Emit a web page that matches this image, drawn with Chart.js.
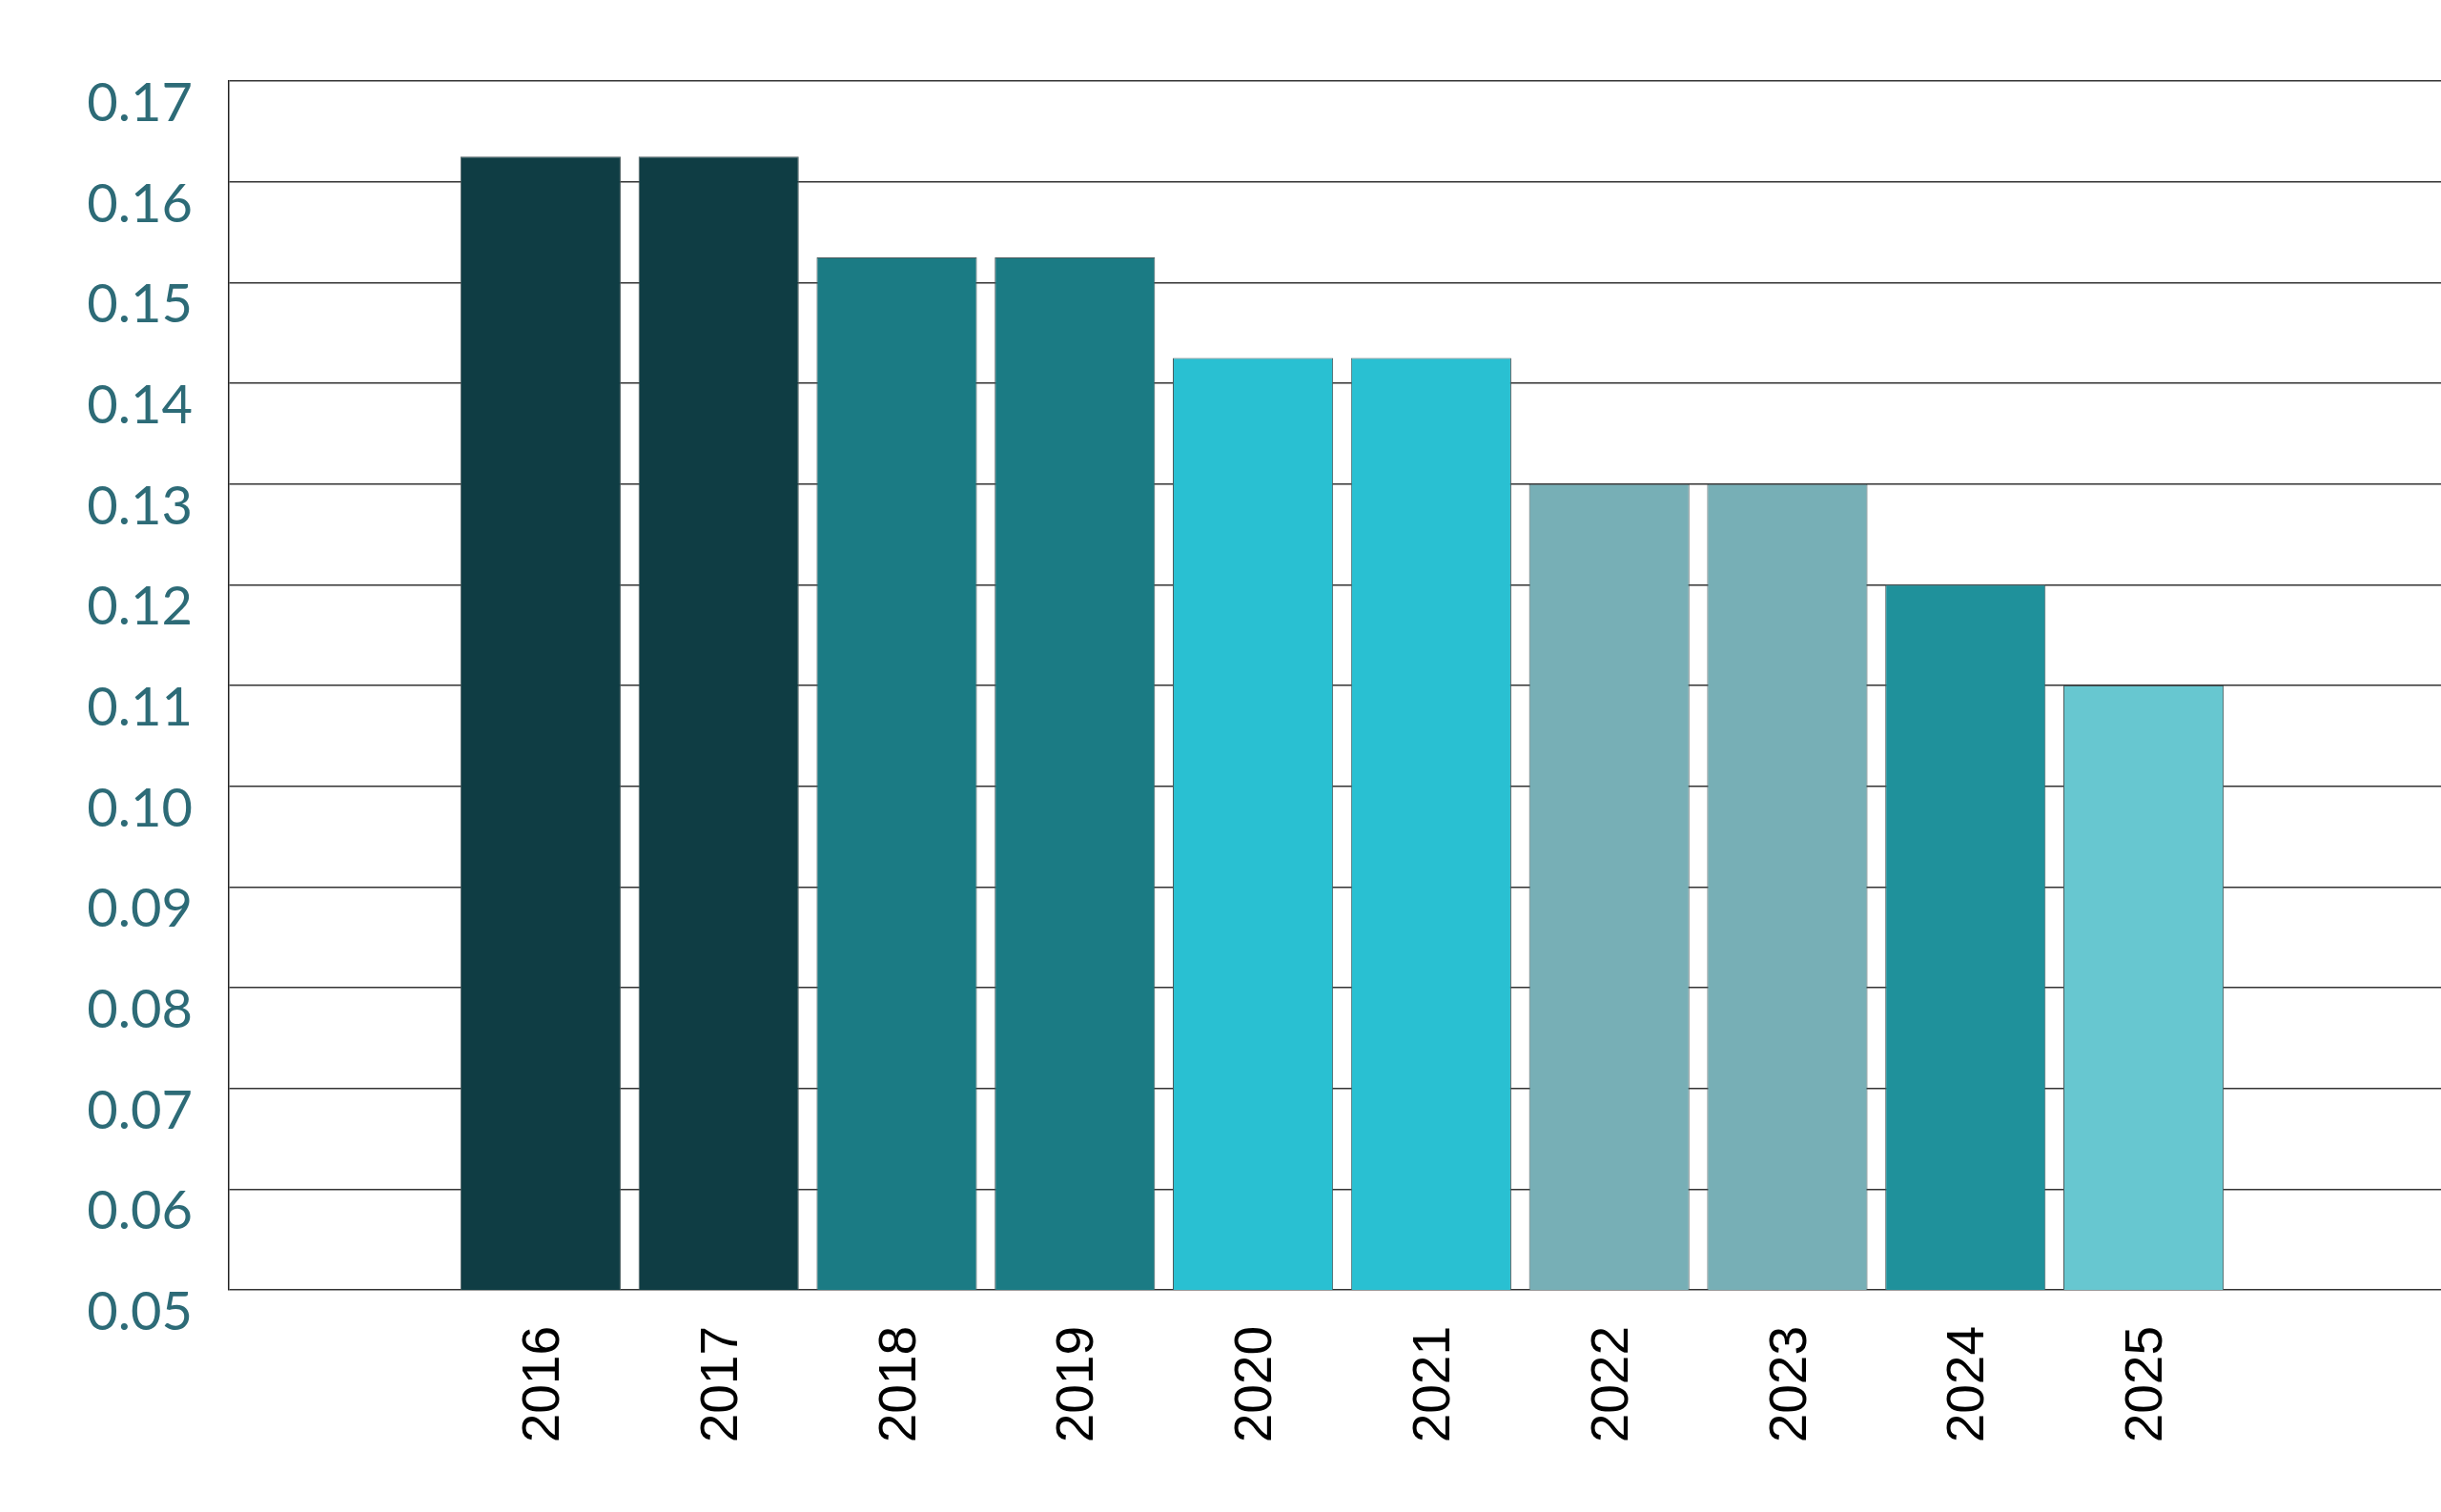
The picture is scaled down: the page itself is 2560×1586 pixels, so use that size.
<!DOCTYPE html>
<html>
<head>
<meta charset="utf-8">
<script src="https://cdn.jsdelivr.net/npm/chart.js@4.4.1/dist/chart.umd.min.js"></script>
<style>
  html, body { margin: 0; padding: 0; background: #ffffff; }
  #grafico { display: block; }
</style>
</head>
<body>
<canvas id="grafico" width="2560" height="1586"></canvas>
<script>
// datos del grafico
var anios = ['2016', '2017', '2018', '2019', '2020', '2021', '2022', '2023', '2024', '2025'];
var valores = [0.1625, 0.1625, 0.1525, 0.1525, 0.1425, 0.1425, 0.130, 0.130, 0.120, 0.110];
var colores = ['#0f3d44', '#0f3d44', '#1b7b84', '#1b7b84', '#29c0d2', '#29c0d2', '#77afb6', '#77afb6', '#1f919b', '#67c7d0'];
var ejeY = [0.05, 0.06, 0.07, 0.08, 0.09, 0.10, 0.11, 0.12, 0.13, 0.14, 0.15, 0.16, 0.17];

// puntos x,y para el eje lineal
var puntos = [];
for (var i = 0; i < anios.length; i++) {
    puntos.push({ x: i, y: valores[i] });
}

var ctx = document.getElementById('grafico');

var miGrafico = new Chart(ctx, {
    type: 'bar',
    data: {
        datasets: [
            {
                data: puntos,
                backgroundColor: colores,
                borderColor: '#4a5a5c',
                borderWidth: 1,
                barPercentage: 0.9,
                categoryPercentage: 1.0
            }
        ]
    },
    options: {
        responsive: false,
        animation: false,
        layout: { padding: { top: 85, right: 0, bottom: 0, left: 0 } },
        plugins: {
            legend: { display: false },
            tooltip: { enabled: false }
        },
        scales: {
            x: {
                type: 'linear',
                offset: false,
                min: -1.75,
                max: 10.67,
                grid: { display: false },
                border: { display: false },
                afterBuildTicks: function (scale) {
                    scale.ticks = anios.map(function (a, idx) { return { value: idx }; });
                },
                afterFit: function (scale) { scale.height = 233; },
                ticks: {
                    autoSkip: false,
                    minRotation: 90,
                    maxRotation: 90,
                    padding: 30,
                    labelOffset: 4,
                    color: '#000000',
                    font: { family: 'Liberation Sans', size: 55 },
                    callback: function (v) { return anios[v]; }
                }
            },
            y: {
                min: ejeY[0],
                max: ejeY[ejeY.length - 1],
                afterBuildTicks: function (scale) {
                    scale.ticks = ejeY.map(function (v) { return { value: v }; });
                },
                afterFit: function (scale) { scale.width = 240; },
                grid: { color: '#333333', lineWidth: 1.5, drawTicks: false },
                border: { display: true, color: '#222222', width: 1.5 },
                ticks: {
                    padding: 38,
                    labelOffset: 24,
                    color: '#2d6b77',
                    font: { family: 'Lato', size: 56, weight: '400' },
                    callback: function (v) { return Number(v).toFixed(2); }
                }
            }
        }
    }
});
</script>
</body>
</html>
